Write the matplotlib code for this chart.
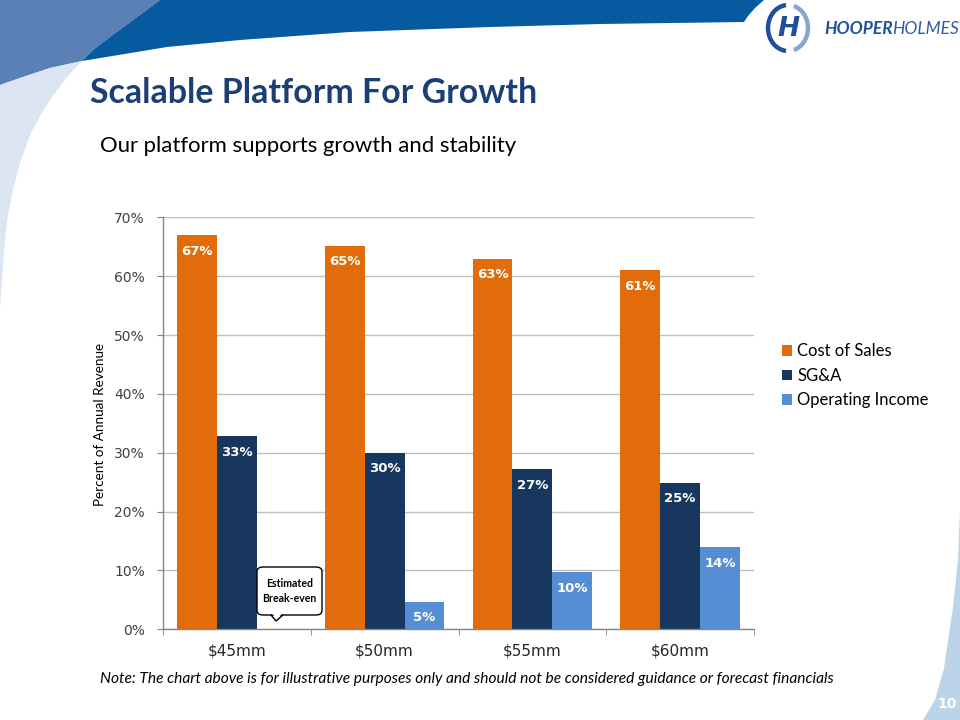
import numpy as np
import matplotlib
matplotlib.use("Agg")
import matplotlib.pyplot as plt
from matplotlib.patches import Polygon, Arc, FancyBboxPatch
from matplotlib import font_manager

# ---------------- data ----------------
categories = ["$45mm", "$50mm", "$55mm", "$60mm"]
cost_of_sales = [67, 65.2, 63, 61]
sga = [32.8, 30, 27.2, 24.9]
operating_income = [0, 4.7, 9.7, 13.9]
series_names = ["Cost of Sales", "SG&A", "Operating Income"]
y_ticks = [0, 10, 20, 30, 40, 50, 60, 70]

title_text = "Scalable Platform For Growth"
subtitle_text = "Our platform supports growth and stability"
note_text = ("Note: The chart above is for illustrative purposes only and should "
             "not be considered guidance or forecast financials")
ylabel_text = "Percent of Annual Revenue"
callout_text = "Estimated\nBreak-even"
page_number = "10"

colors = ["#E36C0A", "#17375E", "#558ED5"]

names = {f.name for f in font_manager.fontManager.ttflist}
body_font = "Lato" if "Lato" in names else "DejaVu Sans"
narrow_font = "Liberation Sans Narrow" if "Liberation Sans Narrow" in names else body_font

W, H = 960, 720
fig = plt.figure(figsize=(9.6, 7.2), dpi=100)

# ---------------- background decoration ----------------
bg = fig.add_axes([0, 0, 1, 1], zorder=-10)
bg.set_xlim(0, W)
bg.set_ylim(H, 0)
bg.axis("off")

mid_blue = [(0, 0), (160, 0), (133, 20), (110, 37), (93, 50), (82, 61),
            (50, 68), (20, 78), (0, 85)]
bg.add_patch(Polygon(mid_blue, closed=True, fc="#5A80B6", ec="none"))
pale = [(0, 85), (20, 78), (50, 68), (82, 61), (67, 77), (50, 100), (40, 116),
        (31, 133), (20, 163), (13, 190), (8, 215), (5, 240), (2, 280), (0, 310)]
bg.add_patch(Polygon(pale, closed=True, fc="#DCE6F2", ec="none"))
dark = [(160, 0), (764, 0), (755, 8), (748, 16), (744, 22), (600, 24), (490, 27),
        (350, 32), (240, 40), (167, 47), (82, 61), (93, 50), (110, 37), (133, 20)]
bg.add_patch(Polygon(dark, closed=True, fc="#065AA0", ec="none"))
right_band = [(960, 510), (958, 560), (953, 607), (944, 668), (935, 700), (923, 720), (960, 720)]
bg.add_patch(Polygon(right_band, closed=True, fc="#BCD4EA", ec="none"))
bg.text(947, 704, page_number, color="white", fontsize=10, fontweight="bold",
        family="DejaVu Sans", ha="center", va="center")

# logo
bg.add_patch(Arc((788, 28), 40, 46, theta1=95, theta2=265, lw=3.2, color="#1F4E9A"))
bg.add_patch(Arc((788, 28), 40, 46, theta1=-75, theta2=75, lw=3.2, color="#8AA4D2"))
bg.text(788, 29, "H", color="#1F4E9A", fontsize=19, fontweight="bold", style="italic",
        family="DejaVu Sans", ha="center", va="center")
t1 = bg.text(824, 29, "HOOPER", color="#1F4E9A", fontsize=12.5, fontweight="bold",
             style="italic", family=narrow_font, ha="left", va="center")
fig.canvas.draw()
r = fig.canvas.get_renderer()
bb = t1.get_window_extent(r)
bg.text(824 + bb.width, 29, "HOLMES", color="#2D5CA8", fontsize=12.5,
        style="italic", family=narrow_font, ha="left", va="center")


def fit(txt, target_px):
    fig.canvas.draw()
    w = txt.get_window_extent(fig.canvas.get_renderer()).width
    txt.set_fontsize(txt.get_fontsize() * target_px / w)


title = fig.text(90 / W, 1 - 103 / H, title_text, color="#1B3F75", fontsize=26,
                 fontweight="bold", family=body_font, ha="left", va="baseline")
fit(title, 448)
subtitle = fig.text(100 / W, 1 - 152 / H, subtitle_text, color="black", fontsize=15,
                    family=body_font, ha="left", va="baseline")
fit(subtitle, 417)
note = fig.text(100 / W, 1 - 683 / H, note_text, color="black", fontsize=10,
                style="italic", family=body_font, ha="left", va="baseline")
fit(note, 736)

# ---------------- chart ----------------
ax = fig.add_axes([163 / W, 1 - 629.3 / H, 591 / W, 412 / H])
x = np.arange(len(categories))
bw = 0.27
series = [cost_of_sales, sga, operating_income]
bars = []
for k, (vals, c, nm) in enumerate(zip(series, colors, series_names)):
    b = ax.bar(x + (k - 1) * bw, vals, width=bw, color=c, label=nm, zorder=3)
    bars.append(b)
    for rect, v in zip(b, vals):
        if v > 0:
            ax.annotate(f"{round(v)}%", (rect.get_x() + rect.get_width() / 2, v),
                        xytext=(0, -7), textcoords="offset points", ha="center",
                        va="top", color="white", fontsize=9.5, fontweight="bold",
                        family="DejaVu Sans", zorder=4)

ax.set_xlim(-0.5, len(categories) - 0.5)
ax.set_ylim(0, 70)
ax.set_yticks(y_ticks)
ax.set_yticklabels([f"{t}%" for t in y_ticks])
ax.set_xticks(x)
ax.set_xticklabels(categories)
ax.set_xticks(np.arange(len(categories) + 1) - 0.5, minor=True)
ax.tick_params(axis="x", which="major", length=0, pad=10, labelsize=11, labelcolor="#262626")
ax.tick_params(axis="x", which="minor", length=4, color="#868686", direction="out")
ax.tick_params(axis="y", length=4, color="#868686", pad=9, labelsize=10, labelcolor="#404040")
for lab in ax.get_xticklabels() + ax.get_yticklabels():
    lab.set_family("DejaVu Sans")
ax.grid(axis="y", color="#BFBFBF", lw=1, zorder=0)
ax.set_axisbelow(True)
for s in ["top", "right"]:
    ax.spines[s].set_visible(False)
for s in ["left", "bottom"]:
    ax.spines[s].set_color("#868686")
    ax.spines[s].set_linewidth(1)
ax.spines["bottom"].set_zorder(5)
ax.patch.set_alpha(0)

yl = fig.text(100 / W, 1 - 424 / H, ylabel_text, rotation=90, ha="center", va="center",
              fontsize=10, family=body_font, color="black")
fig.canvas.draw()
hgt = yl.get_window_extent(fig.canvas.get_renderer()).height
yl.set_fontsize(yl.get_fontsize() * 162 / hgt)


# callout (speech bubble)
def px2data(px, py):
    inv = ax.transData.inverted()
    return inv.transform((px, H - py))


fig.canvas.draw()
(bx0, by0) = px2data(257, 615)
(bx1, by1) = px2data(322, 567)
ax.add_patch(FancyBboxPatch((bx0, by0), bx1 - bx0, by1 - by0,
                            boxstyle="round,pad=0,rounding_size=0.04",
                            mutation_aspect=20, fc="white", ec="black", lw=1.0, zorder=6))
ta = px2data(271, 615)
tb = px2data(283, 615)
tc = px2data(276, 621)
ax.add_patch(Polygon([ta, tc, tb], closed=True, fc="white", ec="black", lw=1.0, zorder=7))
ax.add_patch(Polygon([px2data(271.8, 613.8), px2data(282.2, 613.8), px2data(277, 618)],
                     closed=True, fc="white", ec="none", zorder=8))
cx, cy = px2data(289.5, 591)
ax.text(cx, cy, callout_text, ha="center", va="center", fontsize=7.6,
        fontweight="bold", family=body_font, color="black", zorder=9, linespacing=1.35)

fig.legend(handles=bars, labels=series_names, loc="upper left",
           bbox_to_anchor=(782 / W, 1 - 343.5 / H), frameon=False,
           borderpad=0, borderaxespad=0,
           handlelength=0.6, handleheight=0.6, handletextpad=0.3, labelspacing=0.5,
           prop={"family": body_font, "size": 12})

fig.savefig("out.png", dpi=100)
